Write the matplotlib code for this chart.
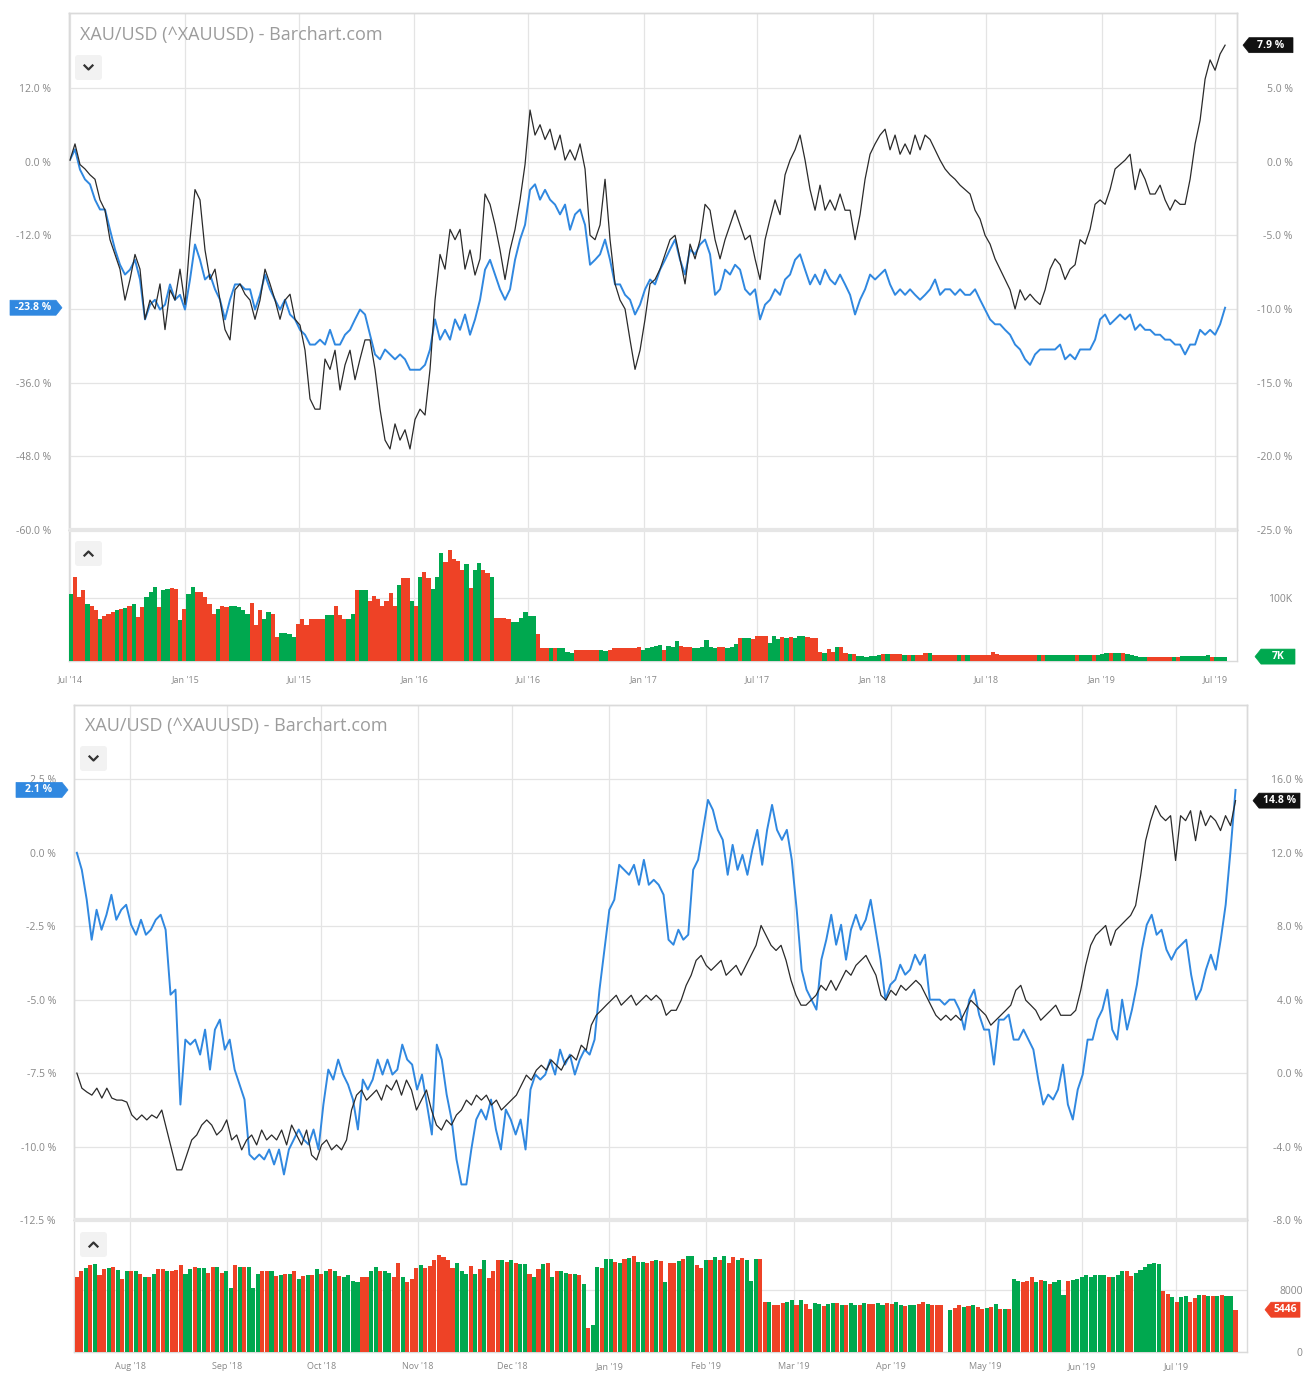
import numpy as np
import pandas as pd
import matplotlib
matplotlib.use("Agg")
import matplotlib.pyplot as plt
import matplotlib.dates as mdates
from matplotlib.patches import Polygon, FancyBboxPatch
from matplotlib.ticker import FixedLocator, FuncFormatter

plt.rcParams['font.family'] = ['Open Sans', 'DejaVu Sans']

W, H = 1311, 1376

# ---------------- data: 5 year chart (weekly) ----------------
top_black = [
    0.1, 1.2, -0.2, -0.5, -0.9, -1.2, -2.6, -3.3, -5.3, -6.3,
    -7.3, -9.4, -8.0, -6.3, -7.3, -10.7, -9.4, -10.0, -8.3, -11.4,
    -8.7, -9.4, -7.3, -9.7, -5.3, -1.9, -2.6, -6.0, -8.0, -7.3,
    -9.4, -11.4, -12.1, -8.7, -8.3, -9.0, -9.4, -10.7, -9.4, -7.3,
    -8.3, -9.4, -10.7, -9.4, -9.0, -10.7, -11.1, -12.8, -16.1, -16.8,
    -16.8, -13.4, -14.1, -12.8, -15.5, -13.8, -12.8, -14.8, -13.4, -12.1,
    -12.1, -14.1, -16.8, -18.9, -19.5, -17.8, -18.9, -18.2, -19.5, -17.5,
    -16.8, -17.2, -14.1, -9.4, -6.3, -7.3, -4.6, -5.3, -4.6, -7.3,
    -6.0, -7.7, -6.6, -2.2, -2.9, -4.3, -6.0, -8.0, -6.0, -4.6,
    -2.6, -0.2, 3.5, 1.8, 2.5, 1.5, 2.2, 0.8, 1.8, 0.1,
    0.8, 0.1, 1.2, -0.5, -5.0, -5.3, -4.3, -1.2, -5.3, -8.3,
    -9.4, -10.0, -12.1, -14.1, -12.8, -10.7, -8.3, -8.0, -7.3, -6.3,
    -5.3, -5.0, -6.6, -8.3, -5.6, -6.6, -5.3, -2.9, -3.3, -5.3,
    -6.6, -5.3, -4.3, -3.3, -4.3, -5.3, -5.0, -6.6, -8.0, -5.3,
    -3.9, -2.6, -3.6, -0.9, 0.1, 0.8, 1.8, 0.1, -1.9, -3.3,
    -1.6, -3.3, -2.6, -3.3, -2.2, -3.3, -3.3, -5.3, -3.6, -1.2,
    0.5, 1.2, 1.8, 2.2, 0.8, 1.8, 0.5, 1.2, 0.5, 1.8,
    0.8, 1.8, 1.5, 0.8, 0.1, -0.5, -0.9, -1.2, -1.6, -1.9,
    -2.2, -3.3, -3.9, -5.0, -5.6, -6.6, -7.3, -8.0, -8.7, -10.0,
    -8.7, -9.4, -9.0, -9.4, -9.7, -8.7, -7.3, -6.6, -7.0, -8.0,
    -7.3, -7.0, -5.3, -5.6, -4.6, -2.9, -2.6, -2.9, -1.9, -0.5,
    -0.2, 0.1, 0.5, -1.9, -0.5, -1.2, -2.2, -2.2, -1.6, -2.6,
    -3.3, -2.6, -2.9, -2.9, -1.2, 1.2, 2.8, 5.6, 6.9, 6.2,
    7.3, 7.9,
]
top_blue = [
    0.3, 2.0, -1.3, -2.9, -3.7, -6.2, -7.8, -7.8, -11.1, -14.3,
    -16.8, -18.4, -17.6, -16.0, -19.2, -25.7, -23.3, -22.5, -24.1, -23.3,
    -20.0, -22.5, -21.7, -24.1, -19.2, -13.5, -16.0, -19.2, -18.4, -20.8,
    -22.5, -25.7, -22.5, -20.0, -20.0, -20.8, -20.8, -24.1, -21.7, -18.4,
    -20.8, -22.5, -24.1, -22.5, -24.9, -25.7, -27.4, -28.2, -29.8, -29.8,
    -29.0, -29.8, -27.4, -29.8, -29.8, -28.2, -27.4, -25.7, -24.1, -24.9,
    -28.2, -31.4, -32.2, -30.6, -31.4, -32.2, -31.4, -32.2, -33.9, -33.9,
    -33.9, -33.1, -30.6, -25.7, -29.0, -27.4, -29.0, -25.7, -27.4, -24.9,
    -28.2, -25.7, -22.5, -17.6, -16.0, -18.4, -20.8, -22.5, -20.8, -16.0,
    -12.7, -10.3, -4.6, -3.7, -6.2, -4.6, -6.2, -7.0, -8.6, -7.0,
    -11.1, -8.6, -7.8, -10.3, -16.8, -16.0, -15.1, -12.7, -16.0, -20.0,
    -20.0, -21.7, -22.5, -24.9, -23.3, -20.8, -19.2, -20.0, -17.6, -16.0,
    -14.3, -12.7, -16.0, -18.4, -14.3, -15.1, -13.5, -12.7, -15.1, -21.7,
    -20.8, -17.6, -18.4, -16.8, -17.6, -20.8, -21.7, -20.8, -25.7, -23.3,
    -22.5, -20.8, -21.7, -19.2, -18.4, -16.0, -15.1, -17.6, -20.0, -18.4,
    -20.0, -17.6, -19.2, -20.0, -18.4, -20.0, -21.7, -24.9, -22.5, -20.8,
    -18.4, -19.2, -18.4, -17.6, -20.0, -21.7, -20.8, -21.7, -20.8, -21.7,
    -22.5, -21.7, -20.8, -19.2, -21.7, -20.8, -20.8, -21.7, -20.8, -21.7,
    -21.7, -20.8, -22.5, -24.1, -25.7, -26.5, -26.5, -27.4, -28.2, -29.8,
    -30.6, -32.2, -33.1, -31.4, -30.6, -30.6, -30.6, -30.6, -29.8, -32.2,
    -31.4, -32.2, -30.6, -30.6, -30.6, -29.0, -25.7, -24.9, -26.5, -25.7,
    -24.9, -25.7, -24.9, -27.4, -26.5, -27.4, -27.4, -28.2, -28.2, -29.0,
    -29.0, -29.8, -29.8, -31.4, -29.8, -29.8, -27.4, -28.2, -27.4, -28.2,
    -26.5, -23.8,
]
# volume in thousands, one bar per week
top_vol = [
    107, 133, 102, 113, 90, 88, 81, 67, 71, 75,
    78, 81, 83, 84, 87, 90, 70, 85, 102, 109,
    118, 85, 113, 115, 116, 115, 65, 83, 107, 118,
    109, 109, 102, 91, 75, 83, 87, 86, 87, 88,
    85, 81, 75, 92, 57, 81, 67, 78, 75, 38,
    44, 45, 43, 38, 59, 66, 57, 67, 67, 67,
    67, 73, 73, 87, 73, 66, 66, 75, 113, 113,
    113, 96, 103, 99, 87, 96, 108, 87, 120, 131,
    131, 96, 88, 133, 141, 131, 115, 133, 171, 157,
    176, 162, 159, 145, 154, 116, 145, 155, 145, 139,
    133, 69, 69, 69, 67, 62, 62, 69, 78, 71,
    71, 43, 20, 20, 20, 20, 20, 20, 15, 13,
    18, 17, 17, 17, 18, 18, 17, 16, 17, 20,
    20, 20, 20, 20, 20, 23, 18, 20, 23,
    24, 26, 18, 24, 23, 32, 24, 23, 23, 20,
    20, 22, 34, 22, 20, 23, 23, 20, 23, 27,
    36, 36, 36, 35, 40, 40, 39, 29, 39, 35,
    38, 36, 38, 36, 39, 40, 38, 36, 36, 15,
    12, 19, 15, 23, 22, 13, 11, 11, 8, 8,
    7, 8, 8, 10, 11, 11, 11, 11, 11, 10,
    9, 10, 10, 10, 12, 13, 10, 10, 9, 9,
    9, 9, 9, 9, 9, 9, 9, 9, 9, 9,
    14, 11, 10, 10, 10, 10, 9, 9, 9, 9,
    9, 9, 9, 9, 9, 10, 10, 10, 10, 10,
    10, 9, 9, 9, 9, 9, 11, 12, 12, 12,
    12, 12, 11, 10, 8, 7, 7, 6, 6, 6,
    6, 6, 6, 7, 7, 8, 8, 8, 8, 8,
    8, 9, 7, 7, 7, 7,
]
top_vol_color = (
    "GRRRGRRGRR" "RGRGRGRRGG" "GRGGRRGRGG" "RRRRRGRRGG" "GGGRRRGGRR"
    "GGGGRRRRRR" "RGGRRRGGRG" "GRRRRRRRGR" "RGRGRRGGGR" "RRRRGRGGRR"
    "GRRRRGGGGG" "GRRRGRGGGG" "RRRRRRGGRR" "RRRRRRGGG"
    "GGRGGGRRRG" "GGGGGRRGGG" "RGGRRRRGGG" "RGRGGGRRRR" "GRRGRRGRGG"
    "GGGGRGRRRG" "RGRRRGRRRR" "RRGRGRRRRR" "RRRRRRRRRR" "RGRGGGGGGG"
    "RGGGRGGGRG" "GRGGGGGRRR" "RRRGRGGGGG" "GGRGGG"
)

# ---------------- data: 1 year chart (daily) ----------------
bot_blue = [
    0.0, -0.58, -1.6, -2.96, -1.94, -2.62, -2.11, -1.43, -2.28, -1.94,
    -1.77, -2.45, -2.79, -2.28, -2.79, -2.62, -2.28, -2.11, -2.62, -4.83,
    -4.66, -8.57, -6.36, -6.53, -6.36, -6.87, -6.02, -7.38, -6.02, -5.68,
    -6.70, -6.36, -7.38, -7.89, -8.40, -10.27, -10.44, -10.27, -10.44, -10.10,
    -10.61, -10.10, -10.95, -10.10, -9.76, -9.42, -9.76, -9.93, -9.42, -10.10,
    -8.57, -7.38, -7.72, -7.04, -7.55, -7.89, -8.40, -9.42, -7.72, -8.06,
    -7.72, -7.04, -7.55, -7.04, -7.55, -7.38, -6.53, -7.04, -7.21, -8.06,
    -7.55, -8.57, -9.59, -6.53, -7.04, -8.23, -9.08, -10.44, -11.29, -11.29,
    -10.10, -9.08, -8.74, -9.08, -8.40, -9.42, -10.10, -8.74, -9.08, -9.59,
    -9.08, -10.10, -8.06, -7.55, -7.72, -7.55, -7.04, -7.55, -6.70, -7.21,
    -6.87, -7.55, -7.04, -6.70, -6.87, -6.36, -4.66, -3.30, -1.94, -1.60,
    -0.41, -0.58, -0.75, -0.41, -1.09, -0.24, -1.09, -0.92, -1.09, -1.43,
    -2.96, -3.13, -2.62, -2.96, -2.79, -0.58, -0.24, 0.78, 1.80, 1.46,
    0.78, 0.44, -0.75, 0.27, -0.58, -0.07, -0.75, 0.10, 0.78, -0.41,
    0.78, 1.63, 0.78, 0.44, 0.78, -0.24, -1.94, -3.98, -4.66, -5.00,
    -5.34, -3.64, -2.96, -2.11, -3.13, -2.45, -3.64, -2.62, -2.11, -2.62,
    -2.28, -1.60, -2.62, -3.64, -5.00, -4.49, -4.32, -3.81, -4.15, -3.98,
    -3.47, -3.81, -3.47, -5.00, -5.00, -5.00, -5.17, -5.00, -5.00, -5.34,
    -6.02, -5.00, -4.66, -5.51, -6.02, -6.02, -7.21, -5.68, -5.68, -5.51,
    -6.36, -6.36, -6.02, -6.36, -6.70, -7.72, -8.57, -8.23, -8.40, -8.06,
    -7.21, -8.57, -9.08, -8.06, -7.55, -6.36, -6.36, -5.68, -5.34, -4.66,
    -6.02, -6.36, -5.00, -6.02, -5.34, -4.49, -3.30, -2.45, -2.11, -2.79,
    -2.62, -3.30, -3.64, -3.30, -3.13, -2.96, -4.15, -5.00, -4.66, -3.98,
    -3.47, -3.98, -2.96, -1.77, 0.10, 2.14,
]
bot_black = [
    0.0, -0.82, -1.03, -1.20, -0.82, -1.36, -0.82, -1.36, -1.47, -1.47,
    -1.58, -2.28, -2.55, -2.28, -2.55, -2.28, -2.45, -2.01, -3.10, -4.18,
    -5.27, -5.27, -4.46, -3.64, -3.37, -2.83, -2.55, -2.83, -3.37, -3.10,
    -2.55, -3.64, -3.37, -4.18, -3.64, -3.37, -3.91, -3.10, -3.64, -3.37,
    -3.64, -3.10, -3.91, -2.83, -3.37, -3.91, -3.10, -4.46, -4.73, -3.91,
    -3.64, -4.18, -3.91, -4.18, -3.64, -2.01, -1.20, -0.92, -1.47, -1.20,
    -0.92, -1.47, -0.65, -0.92, -0.38, -1.20, -0.38, -0.92, -2.01, -1.47,
    -0.92, -2.01, -2.83, -3.10, -2.55, -2.83, -2.28, -2.01, -1.47, -1.74,
    -1.20, -1.47, -1.20, -1.74, -1.47, -2.01, -1.74, -1.47, -1.20, -0.65,
    -0.11, -0.38, 0.16, 0.43, 0.16, 0.71, 0.43, 0.16, 0.71, 0.98,
    0.71, 1.52, 1.25, 2.61, 3.15, 3.42, 3.70, 3.97, 4.24, 3.70,
    3.97, 4.24, 3.70, 3.97, 4.24, 3.97, 4.24, 3.97, 3.15, 3.42,
    3.42, 3.97, 4.78, 5.33, 6.14, 6.41, 5.87, 5.60, 5.87, 6.14,
    5.33, 5.60, 5.87, 5.33, 5.87, 6.41, 6.96, 8.04, 7.50, 6.96,
    6.68, 6.96, 6.14, 5.05, 4.24, 3.70, 3.70, 3.97, 4.24, 4.78,
    4.51, 5.05, 4.51, 5.05, 5.60, 5.33, 5.87, 6.14, 6.41, 5.87,
    5.33, 4.24, 3.97, 4.51, 4.24, 4.78, 4.51, 4.78, 5.05, 4.78,
    4.24, 3.70, 3.15, 2.88, 3.15, 2.88, 3.15, 2.88, 3.42, 3.97,
    3.70, 3.42, 3.15, 2.61, 2.88, 3.15, 3.42, 3.70, 4.51, 4.78,
    3.97, 3.70, 3.42, 2.88, 3.15, 3.42, 3.70, 3.15, 3.15, 3.15,
    3.42, 4.51, 5.87, 6.96, 7.50, 7.77, 8.04, 6.96, 7.77, 8.04,
    8.32, 8.59, 9.13, 10.76, 12.66, 13.75, 14.57, 14.02, 13.75, 14.02,
    11.58, 14.02, 13.75, 14.29, 12.66, 14.29, 13.48, 14.02, 13.75, 13.21,
    14.02, 13.48, 14.84,
]
bot_vol = [
    9700, 10400, 10800, 11200, 11300, 9900, 10700, 10800, 10900, 10500,
    9400, 10400, 10400, 10400, 10100, 9700, 9700, 10000, 10700, 10700,
    10400, 10400, 10500, 11200, 10000, 10700, 10900, 10800, 10800, 10200,
    10900, 10900, 10200, 10400, 8300, 11200, 10900, 10900, 10900, 8300,
    10000, 10400, 10400, 10400, 9800, 9900, 10100, 10000, 10400, 9400,
    9800, 9900, 9900, 10700, 10000, 10400, 10700, 10400, 9800, 9600,
    9900, 9100, 9000, 9600, 9700, 10400, 11000, 10400, 10400, 10200,
    9700, 11400, 9600, 9000, 9400, 10800, 11200, 10800, 11100, 11800,
    12500, 12200, 11900, 10800, 11400, 10400, 10100, 11100, 10000, 10700,
    11800, 9500, 10400, 11800, 11800, 11600, 11800, 11400, 11300, 11300,
    10100, 9700, 10700, 11300, 11400, 9600, 10400, 10400, 10200, 10100,
    10000, 9900, 8800, 3100, 3500, 10900, 10800, 12000, 12000, 11600,
    11500, 12000, 12100, 12300, 11600, 11600,
    11500, 11700, 11800, 11700, 9000, 11500, 11500, 11700, 12000, 12300,
    12300, 11200, 10800, 11900, 11900, 12200, 11900, 12300, 11500, 12200,
    11900, 12100, 11900, 9100, 12000, 12000, 6400, 6400, 6100, 6100,
    6300, 6400, 6700, 6000, 6700, 6200, 5600, 6300, 6200, 5900,
    6200, 6300, 6300, 6100, 6000, 6300, 6000, 6000, 6300, 6200,
    6200, 6300, 6100, 6300, 6200, 6400, 6100, 5900, 6000, 6100,
    6200, 6400, 6200, 6100, 6100, 6000, 0, 5400, 5700, 6000,
    5800, 5900, 6000, 5800, 5500, 5700, 5800, 6200, 5500, 5500,
    5500, 9400, 9200, 9000, 9100, 9700, 9000, 9300, 9100, 8800,
    9000, 9300, 7300, 9200, 9300, 9400, 9600, 9900, 9700, 9900,
    9900, 9900, 9600, 9700, 9900, 10400, 10400, 9800, 10200, 10500,
    10900, 11300, 11400, 11300, 7900, 7500, 7100, 6400, 7100, 7200,
    6400, 6900, 7400, 7300, 7200, 7200, 7200, 7400, 7200, 7200,
    5446,
]
bot_vol_color = (
    "RRGRGRRGRG" "RGRGRGRGRR" "GRRRGGRGGR" "RGRGGRGRGG" "GRRGRGRGRG"
    "RGRGRGRGRG" "GGGRRGGRGG" "RRGRRRGRRR" "RRRRGGGRGR" "GRRRGRGRGG"
    "RGRGRGRGGR" "GRGRGGRGGR" "GRGRGG"
    "RRGRGRRGRG" "GRRGRGRGRR" "GRGGGRRGRR" "RGGRGRRGGR" "GGRGRGGRGR"
    "RGGRRGGRGG" "RRGRRRGGRR" "GRGRRGRGRG" "RGGRRRGRGR" "GGGRGGGGGG"
    "GGRGGGRRGG" "GGGGRRGRGG" "RRGRGRGRGG" "R"
)

top_left_ticks = [-60, -48, -36, -24, -12, 0, 12]
top_right_ticks = [-25, -20, -15, -10, -5, 0, 5]
bot_left_ticks = [-12.5, -10, -7.5, -5, -2.5, 0, 2.5]
bot_right_ticks = [-8, -4, 0, 4, 8, 12, 16]

top_months = ['2014-07-01', '2015-01-01', '2015-07-01', '2016-01-01', '2016-07-01', '2017-01-01',
              '2017-07-01', '2018-01-01', '2018-07-01', '2019-01-01', '2019-07-01']
top_month_labels = ["Jul '14", "Jan '15", "Jul '15", "Jan '16", "Jul '16", "Jan '17",
                    "Jul '17", "Jan '18", "Jul '18", "Jan '19", "Jul '19"]
bot_months = ['2018-08-01', '2018-09-01', '2018-10-01', '2018-11-01', '2018-12-01', '2019-01-01',
              '2019-02-01', '2019-03-01', '2019-04-01', '2019-05-01', '2019-06-01', '2019-07-01']
bot_month_labels = ["Aug '18", "Sep '18", "Oct '18", "Nov '18", "Dec '18", "Jan '19",
                    "Feb '19", "Mar '19", "Apr '19", "May '19", "Jun '19", "Jul '19"]

title = "XAU/USD (^XAUUSD) - Barchart.com"

BLUE = '#3088e0'
BLACK = '#2a2a2a'
RED = '#ee4226'
GREEN = '#00a84f'
GRID = '#e4e4e4'
SPINE = '#dadada'
TXT = '#888888'

fig = plt.figure(figsize=(W / 100, H / 100), dpi=100)
fig.patch.set_facecolor('white')


def add_ax(x0, y0, x1, y1, **kw):
    return fig.add_axes([x0 / W, 1 - y1 / H, (x1 - x0) / W, (y1 - y0) / H], **kw)


def pct_fmt(hidden=None):
    # the tick under the last-value tag is covered in the original, so leave it blank
    def f(v, pos=None):
        if hidden is not None and abs(v - hidden) < 1e-9:
            return ''
        return f"{v:.1f} %"
    return FuncFormatter(f)


def style_spines(ax):
    for s in ax.spines.values():
        s.set_color(SPINE)
        s.set_linewidth(1.0)


def chart(main_rect, vol_rect, line_start, line_end, blue, black, left_ticks, right_ticks,
          left_lim, right_lim, vol_start, vol_end, vol, vol_color, vol_lim, vol_ticks,
          vol_fmt, xlim, months, month_labels, bar_frac, xpad, hidden_left=None):
    ax = add_ax(*main_rect)
    axr = ax.twinx()
    axv = add_ax(*vol_rect)

    d_blue = mdates.date2num(pd.date_range(line_start, line_end, periods=len(blue)))
    d_black = mdates.date2num(pd.date_range(line_start, line_end, periods=len(black)))
    ax.plot(d_blue, blue, color=BLUE, lw=1.4, zorder=3)
    axr.plot(d_black, black, color=BLACK, lw=0.9, zorder=3)

    n = min(len(vol), len(vol_color))
    d_vol = mdates.date2num(pd.date_range(vol_start, vol_end, periods=n))
    step = (d_vol[-1] - d_vol[0]) / (n - 1)
    cols = [RED if c == 'R' else GREEN for c in vol_color[:n]]
    axv.bar(d_vol, vol[:n], width=step * bar_frac, color=cols, linewidth=0, zorder=3)

    tick_pos = mdates.date2num(pd.to_datetime(months))
    for a in (ax, axr, axv):
        a.set_xlim(mdates.date2num(pd.Timestamp(xlim[0])), mdates.date2num(pd.Timestamp(xlim[1])))
        style_spines(a)
    ax.set_ylim(*left_lim)
    axr.set_ylim(*right_lim)
    axv.set_ylim(*vol_lim)

    ax.xaxis.set_major_locator(FixedLocator(tick_pos))
    ax.tick_params(axis='x', length=0, labelbottom=False)
    ax.yaxis.set_major_locator(FixedLocator(left_ticks))
    ax.yaxis.set_major_formatter(pct_fmt(hidden_left))
    ax.tick_params(axis='y', length=0, pad=13, labelsize=7.5, labelcolor=TXT)
    ax.grid(True, color=GRID, lw=0.9, zorder=0)

    axr.yaxis.set_major_locator(FixedLocator(right_ticks))
    axr.yaxis.set_major_formatter(pct_fmt())
    axr.tick_params(axis='y', length=0, pad=40, labelsize=7.5, labelcolor=TXT)
    for lbl in axr.get_yticklabels():
        lbl.set_horizontalalignment('right')

    axv.xaxis.set_major_locator(FixedLocator(tick_pos))
    axv.set_xticklabels(month_labels)
    axv.tick_params(axis='x', length=0, pad=xpad, labelsize=6.5, labelcolor=TXT)
    axv.yaxis.tick_right()
    axv.yaxis.set_major_locator(FixedLocator(vol_ticks))
    axv.yaxis.set_major_formatter(FuncFormatter(vol_fmt))
    axv.tick_params(axis='y', length=0, pad=40, labelsize=7.5, labelcolor=TXT)
    for lbl in axv.get_yticklabels():
        lbl.set_horizontalalignment('right')
    axv.grid(True, color=GRID, lw=0.9, zorder=0)
    return ax, axr, axv


# ---------------- top chart (5 years) ----------------
t_ax, t_axr, t_axv = chart(
    (69, 13, 1237, 530), (69, 530, 1237, 661),
    '2014-07-01', '2019-07-17', top_blue, top_black,
    top_left_ticks, top_right_ticks, (-60, 24.2), (-25, 24.2 / 2.4),
    '2014-07-02', '2019-07-16', top_vol, top_vol_color, (0, 208), [100],
    lambda v, p=None: f"{v:.0f}K",
    ('2014-06-29 10:00', '2019-08-05'), top_months, top_month_labels, 1.0, 10,
    hidden_left=-24)

# ---------------- bottom chart (1 year) ----------------
b_ax, b_axr, b_axv = chart(
    (74, 705, 1247, 1220), (74, 1220, 1247, 1352),
    '2018-07-15', '2019-07-20', bot_blue, bot_black,
    bot_left_ticks, bot_right_ticks, (-12.5, 5.03), (-8, 12 + 1.6 * 5.03),
    '2018-07-15', '2019-07-20', bot_vol, bot_vol_color, (0, 17000), [0, 8000],
    lambda v, p=None: f"{v:.0f}",
    ('2018-07-14 02:00', '2019-07-23 16:00'), bot_months, bot_month_labels, 0.9, 7)

# ---------------- overlay: titles, buttons, tags ----------------
ov = fig.add_axes([0, 0, 1, 1], zorder=10)
ov.set_xlim(0, W)
ov.set_ylim(H, 0)
ov.axis('off')
ov.patch.set_alpha(0)

ov.plot([69, 1237], [530, 530], color='#e6e6e6', lw=3, solid_capstyle='butt')
ov.plot([74, 1247], [1220, 1220], color='#e6e6e6', lw=3, solid_capstyle='butt')

ov.text(80, 35, title, fontsize=13, color='#9c9c9c', va='center', ha='left')
ov.text(85, 726, title, fontsize=13, color='#9c9c9c', va='center', ha='left')


def button(x, y, up):
    ov.add_patch(FancyBboxPatch((x, y), 27, 25, boxstyle='round,pad=0,rounding_size=3',
                                fc='#f2f2f2', ec='none'))
    cx, cy = x + 13.5, y + 12.5
    if up:
        ov.plot([cx - 4, cx, cx + 4], [cy + 2, cy - 2, cy + 2], color='#333333', lw=1.6)
    else:
        ov.plot([cx - 4, cx, cx + 4], [cy - 2, cy + 2, cy - 2], color='#333333', lw=1.6)


button(75, 55, False)
button(75, 541, True)
button(80, 746, False)
button(80, 1232, True)


def tag(ax, value, text, color, x0, x1, tip):
    y = H - ax.transData.transform((0, value))[1]
    h = 15
    if tip == 'right':
        pts = [(x0, y - h / 2), (x1 - 6, y - h / 2), (x1, y), (x1 - 6, y + h / 2), (x0, y + h / 2)]
        tx = (x0 + x1 - 6) / 2
    else:
        pts = [(x0, y), (x0 + 6, y - h / 2), (x1, y - h / 2), (x1, y + h / 2), (x0 + 6, y + h / 2)]
        tx = (x0 + 6 + x1) / 2
    ov.add_patch(Polygon(pts, closed=True, fc=color, ec=color, lw=0.5))
    ov.text(tx, y, text, color='white', fontsize=7.5, fontweight='bold', ha='center', va='center')


tag(t_ax, top_blue[-1], f"{top_blue[-1]:.1f} %", BLUE, 10, 62, 'right')
tag(t_axr, top_black[-1], f"{top_black[-1]:.1f} %", '#111111', 1243, 1293, 'left')
tag(t_axv, top_vol[-1], f"{top_vol[-1]:.0f}K", GREEN, 1255, 1295, 'left')
tag(b_ax, bot_blue[-1], f"{bot_blue[-1]:.1f} %", BLUE, 16, 68, 'right')
tag(b_axr, bot_black[-1], f"{bot_black[-1]:.1f} %", '#111111', 1253, 1300, 'left')
tag(b_axv, bot_vol[-1], f"{bot_vol[-1]:.0f}", RED, 1265, 1300, 'left')

fig.savefig('out.png', dpi=100)
